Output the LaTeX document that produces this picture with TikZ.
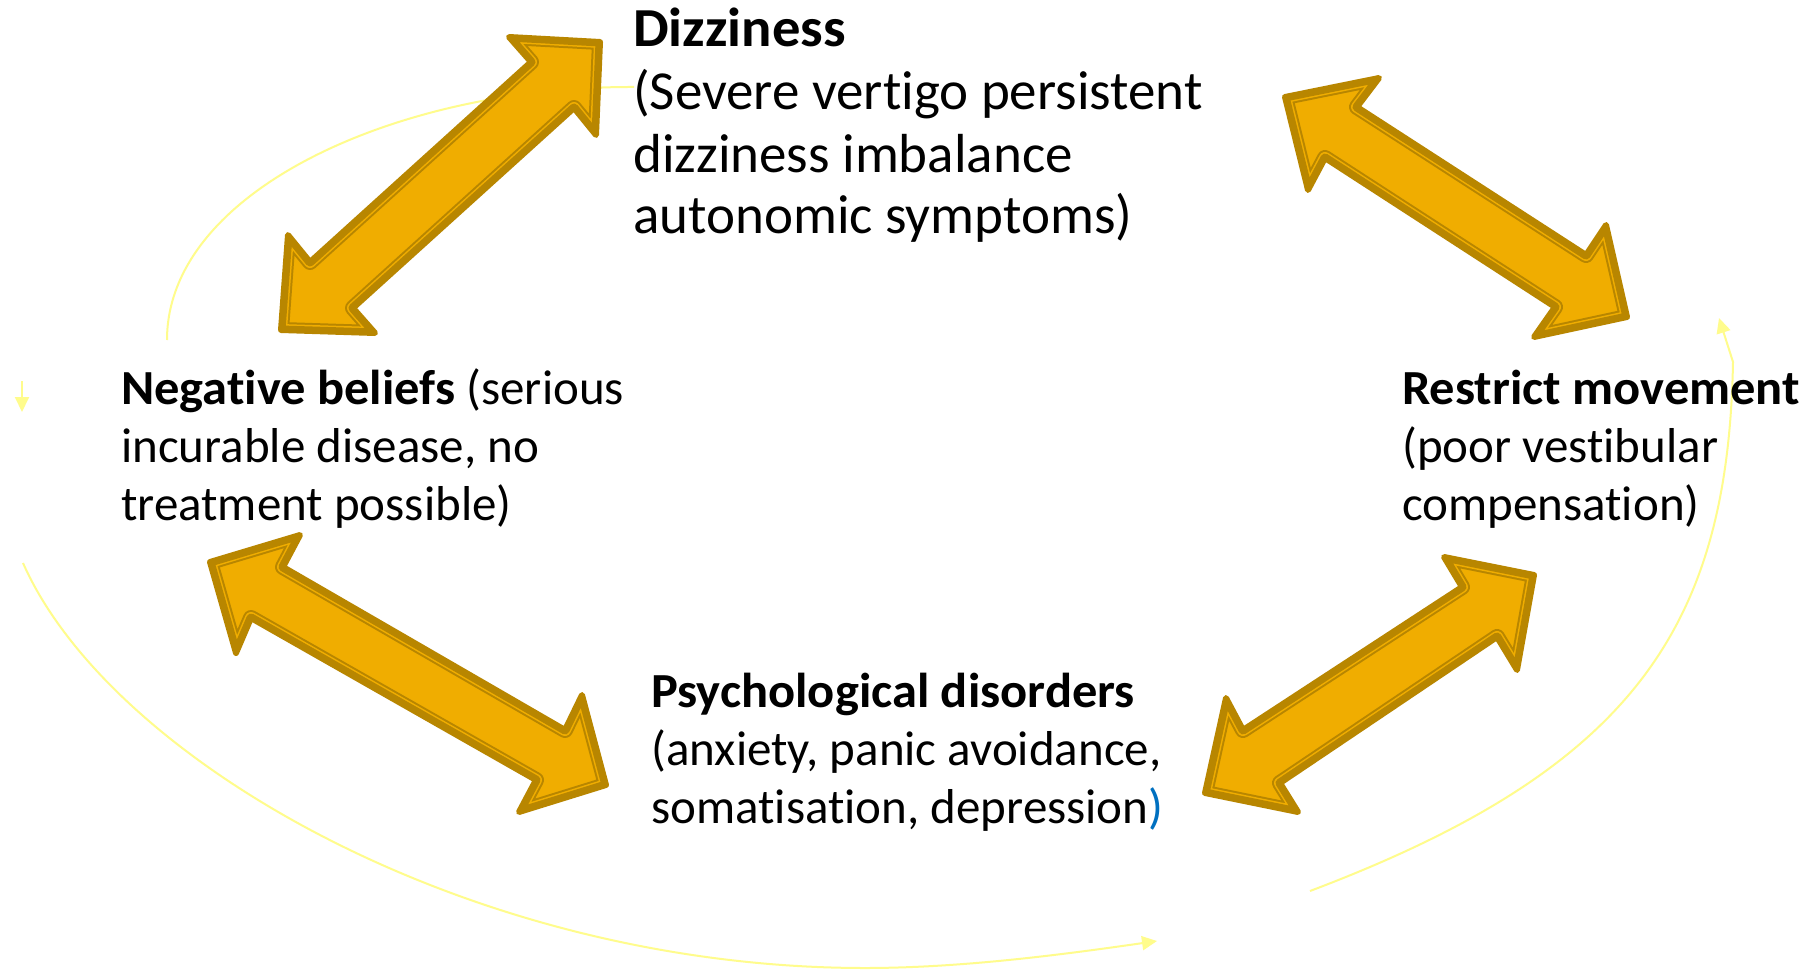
\documentclass[tikz,border=0pt]{standalone}
\usepackage{fontspec}
\setmainfont{Carlito}[Ligatures=NoCommon, BoldFeatures={FakeStretch=1.03}]
\usetikzlibrary{arrows.meta}
\definecolor{arrowfill}{RGB}{240,173,0}
\definecolor{arrowdark}{RGB}{184,134,0}
\definecolor{curveyellow}{RGB}{255,252,140}
\definecolor{parenblue}{RGB}{0,112,192}
\newcommand{\dblarrow}[1]{%
  \fill[arrowfill] #1 -- cycle;
  \begin{scope}
    \clip #1 -- cycle;
    \draw[arrowdark, line width=16pt, line join=round] #1 -- cycle;
    \draw[arrowfill, line width=12pt, line join=round] #1 -- cycle;
    \draw[arrowdark, line width=9pt, line join=round] #1 -- cycle;
  \end{scope}
  \draw[arrowdark, line width=6pt, line join=round] #1 -- cycle;
}
\tikzset{
  bigtxt/.style={anchor=base west, inner sep=0pt, font=\fontsize{55}{62}\selectfont},
  smalltxt/.style={anchor=base west, inner sep=0pt, font=\fontsize{49}{58}\selectfont},
  loop/.style={draw=curveyellow, line width=2pt},
  looptip/.style={-{Triangle[length=15pt,width=14pt]}}
}
\begin{document}
\begin{tikzpicture}[x=1pt,y=-1pt]
\useasboundingbox (0,0) rectangle (1809,971);
\fill[white] (0,0) rectangle (1809,971);

% faint yellow cycle curves
\coordinate (c1s) at (167,340);
\coordinate (c1e) at (634,87);
\draw[loop] (c1s) .. controls (167,190) and (400,86) .. (c1e);
\coordinate (c2s) at (22,381);
\coordinate (c2e) at (22,412);
\draw[loop, looptip] (c2s) -- (c2e);
\coordinate (c3s) at (23,563);
\coordinate (c3m) at (865,968);
\coordinate (c3e) at (1157,941);
\draw[loop, looptip] (c3s) .. controls (110,760) and (470,968) .. (c3m)
  .. controls (960,968) and (1060,955) .. (c3e);
\coordinate (c4s) at (1310,891);
\coordinate (c4m) at (1733,362);
\coordinate (c4e) at (1719,318);
\draw[loop, looptip] (c4s) .. controls (1630,770) and (1728,630) .. (c4m) -- (c4e);

% double arrows
\dblarrow{(600,42) -- (596,135) -- (574,108) -- (353,308) -- (375,333) -- (281,330) -- (288,235) -- (310,262) -- (531,62) -- (509,37)}
\dblarrow{(1285,97) -- (1379,78) -- (1357,107) -- (1586,255) -- (1606,225) -- (1627,317) -- (1534,337) -- (1555,307) -- (1325,158) -- (1308,190)}
\dblarrow{(210,562) -- (300,535) -- (283,567) -- (565,730) -- (582,695) -- (606,785) -- (519,812) -- (536,780) -- (251,618) -- (236,653)}
\dblarrow{(1534,575) -- (1517,670) -- (1497,637) -- (1280,783) -- (1298,812) -- (1205,793) -- (1226,698) -- (1243,730) -- (1462,587) -- (1444,557)}

% Dizziness block
\node[bigtxt] (d1) at (633,47) {\textbf{Dizziness}};
\node[bigtxt] (d2) at (633,110) {(Severe vertigo persistent};
\node[bigtxt] (d3) at (633,172) {dizziness imbalance};
\node[bigtxt] (d4) at (633,233) {autonomic symptoms)};

% Negative beliefs block
\node[smalltxt] (n1) at (121,404) {\textbf{Negative beliefs} (serious};
\node[smalltxt] (n2) at (121,462) {incurable disease, no};
\node[smalltxt] (n3) at (121,520) {treatment possible)};

% Restrict movement block
\node[smalltxt] (r1) at (1402,404) {\textbf{Restrict movement}};
\node[smalltxt] (r2) at (1402,462) {(poor vestibular};
\node[smalltxt] (r3) at (1402,520) {compensation)};

% Psychological disorders block
\node[smalltxt] (p1) at (651,707) {\textbf{Psychological disorders}};
\node[smalltxt] (p2) at (651,765) {(anxiety, panic avoidance,};
\node[smalltxt] (p3) at (651,823) {somatisation, depression\textcolor{parenblue}{)}};
\end{tikzpicture}
\end{document}
